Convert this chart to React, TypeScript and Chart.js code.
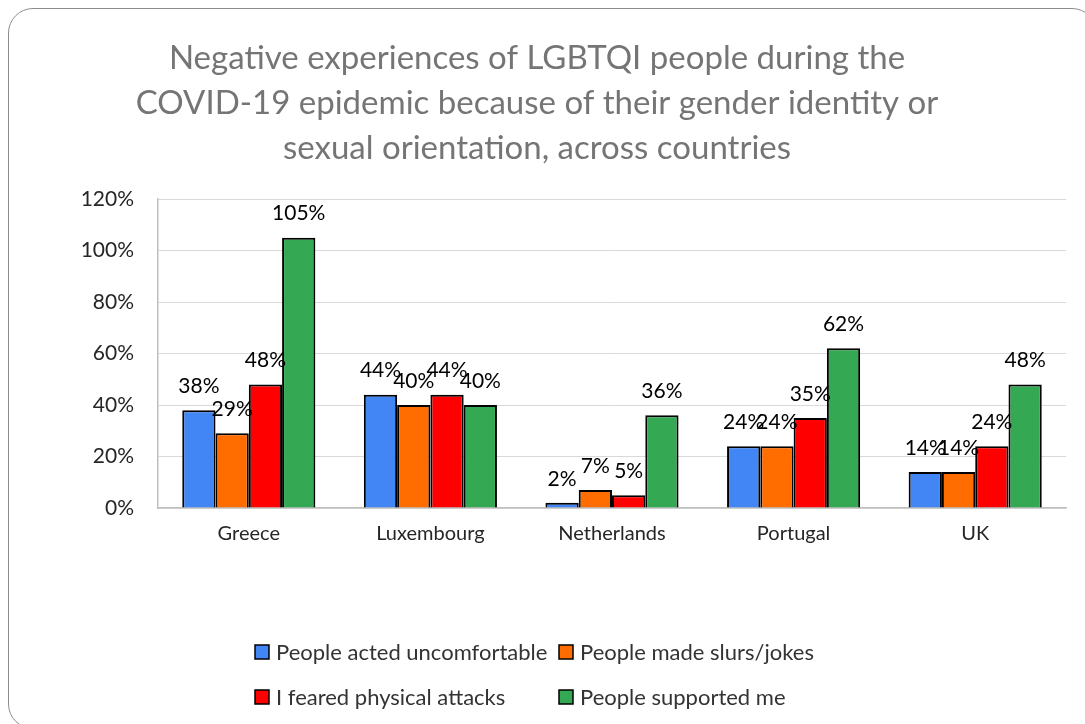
import React, { useEffect, useRef } from "react";
import { Chart, registerables } from "chart.js";

Chart.register(...registerables);

const titleLines = [
  "Negative experiences of LGBTQI people during the",
  "COVID-19 epidemic because of their gender identity or",
  "sexual orientation, across countries",
];
const countries = ["Greece", "Luxembourg", "Netherlands", "Portugal", "UK"];
const seriesNames = [
  "People acted uncomfortable",
  "People made slurs/jokes",
  "I feared physical attacks",
  "People supported me",
];
const actedUncomfortable = [38, 44, 2, 24, 14];
const madeSlursJokes = [29, 40, 7, 24, 14];
const fearedPhysicalAttacks = [48, 44, 5, 35, 24];
const supportedMe = [105, 40, 36, 62, 48];
const seriesColors = ["#4285F4", "#FF6D01", "#FF0000", "#34A853"];
const yMin = 0;
const yMax = 120;
const yStep = 20;

const FONT = "Lato, 'Open Sans', sans-serif";
const W = 1077;
const H = 716;

const dataLabelPlugin = {
  id: "dataLabels",
  afterDatasetsDraw(chart: any) {
    const ctx = chart.ctx;
    ctx.save();
    ctx.font = `21px ${FONT}`;
    ctx.fillStyle = "#000000";
    ctx.textAlign = "center";
    ctx.textBaseline = "middle";
    chart.data.datasets.forEach((ds: any, di: number) => {
      const meta = chart.getDatasetMeta(di);
      meta.data.forEach((el: any, i: number) => {
        ctx.fillText(`${ds.data[i]}%`, el.x, el.y - 24);
      });
    });
    ctx.restore();
  },
};

const gridLegendPlugin = {
  id: "gridLegend",
  afterDraw(chart: any) {
    const ctx = chart.ctx;
    const colX = [247, 551];
    const rowY = [644, 689];
    const box = 14;
    ctx.save();
    ctx.font = `22px ${FONT}`;
    ctx.textBaseline = "middle";
    ctx.textAlign = "left";
    chart.data.datasets.forEach((ds: any, i: number) => {
      const x = colX[i % 2];
      const y = rowY[Math.floor(i / 2)];
      ctx.fillStyle = ds.backgroundColor;
      ctx.fillRect(x, y - box / 2, box, box);
      ctx.lineWidth = 1.5;
      ctx.strokeStyle = "#000000";
      ctx.strokeRect(x, y - box / 2, box, box);
      ctx.fillStyle = "#333333";
      ctx.fillText(ds.label, x + 21, y + 1);
    });
    ctx.restore();
  },
};

export default function App() {
  const canvasRef = useRef<HTMLCanvasElement | null>(null);

  useEffect(() => {
    document.body.style.overflow = "hidden";
    const canvas = canvasRef.current;
    if (!canvas) return;
    const series = [actedUncomfortable, madeSlursJokes, fearedPhysicalAttacks, supportedMe];
    const chart = new Chart(canvas, {
      type: "bar",
      data: {
        labels: countries,
        datasets: series.map((values, i) => ({
          label: seriesNames[i],
          data: values,
          backgroundColor: seriesColors[i],
          borderColor: "#000000",
          borderWidth: 2,
          categoryPercentage: 0.733,
          barPercentage: 1.0,
        })),
      },
      options: {
        responsive: false,
        animation: false,
        devicePixelRatio: 1,
        layout: { padding: { left: 0, right: 19, top: 0, bottom: 156 } },
        plugins: {
          legend: { display: false },
          tooltip: { enabled: false },
          title: {
            display: true,
            text: titleLines,
            color: "#757575",
            font: { family: FONT, size: 33, weight: "normal", lineHeight: "45px" },
            padding: { top: 27.7, bottom: 28.3 },
          },
        },
        scales: {
          x: {
            grid: { display: false, drawTicks: false },
            border: { display: true, color: "#bfbfbf", width: 1.5 },
            ticks: {
              color: "#262626",
              font: { family: FONT, size: 20 },
              padding: 14,
            },
            afterFit: (scale: any) => {
              scale.height = 60;
            },
          },
          y: {
            min: yMin,
            max: yMax,
            grid: { color: "#d9d9d9", lineWidth: 1, drawTicks: false },
            border: { display: true, color: "#bfbfbf", width: 1.5 },
            ticks: {
              stepSize: yStep,
              color: "#262626",
              font: { family: FONT, size: 21 },
              padding: 24,
              callback: (v: any) => `${v}%`,
            },
            afterFit: (scale: any) => {
              scale.width = 150;
            },
          },
        },
      },
      plugins: [dataLabelPlugin, gridLegendPlugin],
    });
    return () => chart.destroy();
  }, []);

  return (
    <div
      style={{
        position: "fixed",
        left: 8,
        top: 8,
        width: W,
        height: H,
        overflow: "hidden",
        background: "#ffffff",
      }}
    >
      <div
        style={{
          position: "absolute",
          left: 0,
          top: 0,
          width: 1089,
          height: 721,
          boxSizing: "border-box",
          border: "1.5px solid #8c8c8c",
          borderRadius: 25,
        }}
      />
      <canvas
        ref={canvasRef}
        width={W}
        height={H}
        style={{ position: "absolute", left: 0, top: 0, width: W, height: H }}
      />
    </div>
  );
}
